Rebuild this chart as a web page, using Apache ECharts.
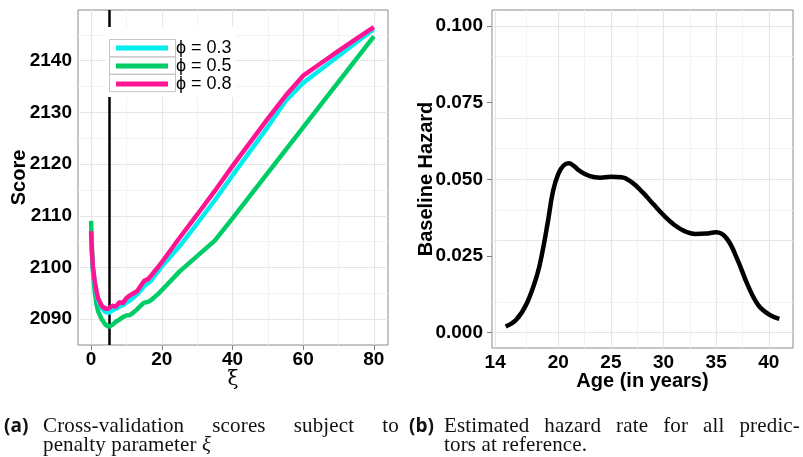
<!DOCTYPE html>
<html><head><meta charset="utf-8">
<script src="https://cdn.jsdelivr.net/npm/echarts@6/dist/echarts.min.js"></script>
<style>
html,body{margin:0;padding:0;background:#fff;}
#chart{width:803px;height:457px;position:absolute;left:0;top:0;}
.cap{position:absolute;font-family:"Liberation Serif",serif;font-size:21px;line-height:20px;color:#111;white-space:nowrap;letter-spacing:0.15px;}
.just{text-align:justify;text-align-last:justify;}
.lab{position:absolute;font-family:"Open Sans",sans-serif;font-weight:bold;font-size:19px;line-height:20px;color:#111;}
</style></head><body>
<div id="chart"></div>
<div class="lab" style="left:4px;top:415px">(a)</div>
<div class="cap just" style="left:43px;top:415px;width:356px">Cross-validation scores subject to</div>
<div class="cap" style="left:43px;top:434px">penalty parameter <i>ξ</i></div>
<div class="lab" style="left:409px;top:415px">(b)</div>
<div class="cap just" style="left:444px;top:415px;width:356px">Estimated hazard rate for all predic-</div>
<div class="cap" style="left:444px;top:434px">tors at reference.</div>
<script>
// ---- Panel (a): cross-validation score vs penalty xi ----
const xi = [0, 0.25, 0.5, 1, 1.5, 2, 3, 4, 5, 6, 7, 8, 9, 10, 11, 12, 13, 14, 15, 16, 17, 18, 19, 20, 25, 30, 35, 40, 45, 50, 55, 60, 65, 70, 75, 80];
const score03 = [2106.5, 2102.5, 2100, 2097, 2095, 2093.5, 2092.2, 2091.4, 2091.2, 2091.7, 2092, 2092.4, 2092.7, 2093.2, 2093.6, 2094.2, 2094.8, 2095.5, 2096.4, 2096.9, 2097.5, 2098.4, 2099.3, 2100.2, 2104.1, 2108.5, 2113, 2117.8, 2122.5, 2127.2, 2132.2, 2135.7, 2138.3, 2140.9, 2143.5, 2146.1];
const score05 = [2109, 2103.5, 2099.5, 2095.5, 2093, 2091.5, 2090, 2089, 2088.5, 2088.9, 2089.5, 2089.9, 2090.4, 2090.7, 2090.8, 2091.3, 2091.9, 2092.6, 2093.2, 2093.3, 2093.7, 2094.3, 2094.9, 2095.6, 2099.2, 2102.2, 2105.2, 2109.5, 2113.9, 2118.3, 2122.7, 2127.1, 2131.5, 2135.9, 2140.3, 2144.7];
const score08 = [2107, 2103, 2100.3, 2097.5, 2095.5, 2094, 2092.6, 2092, 2092.1, 2092.6, 2092.4, 2093.3, 2093.1, 2094.1, 2094.6, 2095, 2095.4, 2096.4, 2097.4, 2097.7, 2098.4, 2099.3, 2100.1, 2101, 2105.7, 2110.2, 2114.8, 2119.6, 2124.2, 2128.8, 2133.2, 2137.1, 2139.5, 2141.9, 2144.2, 2146.5];
const seriesNames = ['ϕ = 0.3', 'ϕ = 0.5', 'ϕ = 0.8'];
const chosenXi = 5;
const xiTicks = [0, 20, 40, 60, 80];
const xiMinor = [10, 30, 50, 70];
const scoreTicks = [2090, 2100, 2110, 2120, 2130, 2140];
const scoreMinor = [2095, 2105, 2115, 2125, 2135, 2145];

// ---- Panel (b): baseline hazard vs age ----
const age = [15, 16, 17, 18, 18.5, 19, 19.5, 20, 20.5, 21, 21.5, 22, 23, 24, 25, 26, 27, 28, 29, 30, 31, 32, 33, 34, 35, 36, 37, 38, 39, 40, 41];
const hazard = [0.0020, 0.0042, 0.0095, 0.0190, 0.0265, 0.0360, 0.0462, 0.0518, 0.0545, 0.0552, 0.0543, 0.0528, 0.0510, 0.0505, 0.0508, 0.0507, 0.0490, 0.0458, 0.0420, 0.0383, 0.0352, 0.0331, 0.0322, 0.0323, 0.0327, 0.0307, 0.0240, 0.0155, 0.0090, 0.0060, 0.0045];
const ageTicks = [14, 20, 25, 30, 35, 40];
const ageMinor = [17, 22.5, 27.5, 32.5, 37.5];
const hazardTicks = [0, 0.025, 0.05, 0.075, 0.1];
const hazardMinor = [0.0125, 0.0375, 0.0625, 0.0875];

const MAJOR = '#e6e6e6', MINOR = '#f3f3f3', BORDER = '#8a8a8a';
const SANS = '"Liberation Sans", Arial, sans-serif';

function gridLines(xMaj, xMin, yMaj, yMin) {
  const d = [];
  xMin.forEach(v => d.push({xAxis: v, lineStyle: {color: MINOR, width: 1}}));
  yMin.forEach(v => d.push({yAxis: v, lineStyle: {color: MINOR, width: 1}}));
  xMaj.forEach(v => d.push({xAxis: v, lineStyle: {color: MAJOR, width: 1.2}}));
  yMaj.forEach(v => d.push({yAxis: v, lineStyle: {color: MAJOR, width: 1.2}}));
  return {silent: true, z: 1, symbol: ['none', 'none'], label: {show: false}, animation: false, lineStyle: {type: 'solid'}, data: d};
}

const axisCommon = {
  type: 'value', splitLine: {show: false}, axisLine: {show: false},
  nameLocation: 'middle', nameMoveOverlap: false
};
function tickCfg(vals) { return {show: true, customValues: vals, length: 5, lineStyle: {color: '#7f7f7f', width: 1}}; }
function labelCfg(vals, margin, fmt) {
  return {customValues: vals, fontSize: 19, fontWeight: 'bold', color: '#000', fontFamily: SANS, margin: margin, formatter: fmt};
}

const chart = echarts.init(document.getElementById('chart'), null, {renderer: 'canvas'});
chart.setOption({
  animation: false,
  backgroundColor: '#fff',
  grid: [
    {left: 78, top: 10, width: 310, height: 335, show: true, borderColor: BORDER, borderWidth: 1, backgroundColor: '#fff'},
    {left: 492, top: 10, width: 301, height: 338, show: true, borderColor: BORDER, borderWidth: 1, backgroundColor: '#fff'}
  ],
  xAxis: [
    Object.assign({}, axisCommon, {gridIndex: 0, min: -3.7, max: 84, axisTick: tickCfg(xiTicks), axisLabel: labelCfg(xiTicks, 5, v => String(v)),
      name: 'ξ', nameGap: 25, nameTextStyle: {fontFamily: '"DejaVu Serif", serif', fontSize: 20, color: '#000'}}),
    Object.assign({}, axisCommon, {gridIndex: 1, min: 13.7, max: 42.3, axisTick: tickCfg(ageTicks), axisLabel: labelCfg(ageTicks, 5, v => String(v)),
      name: 'Age (in years)', nameGap: 23, nameTextStyle: {fontFamily: SANS, fontSize: 20, fontWeight: 'bold', color: '#000'}})
  ],
  yAxis: [
    Object.assign({}, axisCommon, {gridIndex: 0, min: 2085, max: 2149.8, axisTick: tickCfg(scoreTicks), axisLabel: labelCfg(scoreTicks, 6, v => String(v)),
      name: 'Score', nameGap: 49, nameTextStyle: {fontFamily: SANS, fontSize: 20, fontWeight: 'bold', color: '#000'}}),
    Object.assign({}, axisCommon, {gridIndex: 1, min: -0.005, max: 0.1052, axisTick: tickCfg(hazardTicks), axisLabel: labelCfg(hazardTicks, 9, v => v.toFixed(3)),
      name: 'Baseline Hazard', nameGap: 56, nameTextStyle: {fontFamily: SANS, fontSize: 20, fontWeight: 'bold', color: '#000'}})
  ],
  legend: {
    orient: 'vertical', left: 116, top: 39, padding: 0, itemGap: 0,
    data: seriesNames, icon: 'rect', itemWidth: 52, itemHeight: 5,
    selectedMode: false,
    textStyle: {fontFamily: SANS, fontSize: 18, color: '#000', lineHeight: 17.4, padding: [0, 0, 0, 3]}
  },
  graphic: [
    {type: 'rect', z: 3, shape: {x: 106, y: 27, width: 129, height: 70}, style: {fill: '#fff'}},
    {type: 'rect', z: 5, shape: {x: 109.5, y: 39.5, width: 66, height: 17.4}, style: {fill: 'none', stroke: '#c4c4c4', lineWidth: 1}},
    {type: 'rect', z: 5, shape: {x: 109.5, y: 56.9, width: 66, height: 17.4}, style: {fill: 'none', stroke: '#c4c4c4', lineWidth: 1}},
    {type: 'rect', z: 5, shape: {x: 109.5, y: 74.3, width: 66, height: 17.4}, style: {fill: 'none', stroke: '#c4c4c4', lineWidth: 1}}
  ],
  series: [
    {type: 'line', name: 'gridA', xAxisIndex: 0, yAxisIndex: 0, z: 1, data: [], markLine: gridLines(xiTicks, xiMinor, scoreTicks, scoreMinor)},
    {type: 'line', name: 'gridB', xAxisIndex: 1, yAxisIndex: 1, z: 1, data: [], markLine: gridLines(ageTicks, ageMinor, hazardTicks, hazardMinor)},
    {type: 'line', name: seriesNames[1], xAxisIndex: 0, yAxisIndex: 0, showSymbol: false, z: 2,
      lineStyle: {width: 4.5, color: '#00CC66'}, itemStyle: {color: '#00CC66'}, data: xi.map((x, i) => [x, score05[i]])},
    {type: 'line', name: seriesNames[0], xAxisIndex: 0, yAxisIndex: 0, showSymbol: false, z: 2,
      lineStyle: {width: 4.5, color: '#00EEEE'}, itemStyle: {color: '#00EEEE'}, data: xi.map((x, i) => [x, score03[i]])},
    {type: 'line', name: seriesNames[2], xAxisIndex: 0, yAxisIndex: 0, showSymbol: false, z: 2,
      lineStyle: {width: 4.5, color: '#FF1493'}, itemStyle: {color: '#FF1493'}, data: xi.map((x, i) => [x, score08[i]]),
      markLine: {silent: true, z: 2, symbol: ['none', 'none'], label: {show: false}, lineStyle: {color: '#000', width: 2.5, type: 'solid'}, data: [{xAxis: chosenXi}]}},
    {type: 'line', name: 'hazard', xAxisIndex: 1, yAxisIndex: 1, showSymbol: false, z: 2, smooth: 0.4,
      lineStyle: {width: 4.5, color: '#000'}, data: age.map((a, i) => [a, hazard[i]])}
  ]
});
</script>
</body></html>
